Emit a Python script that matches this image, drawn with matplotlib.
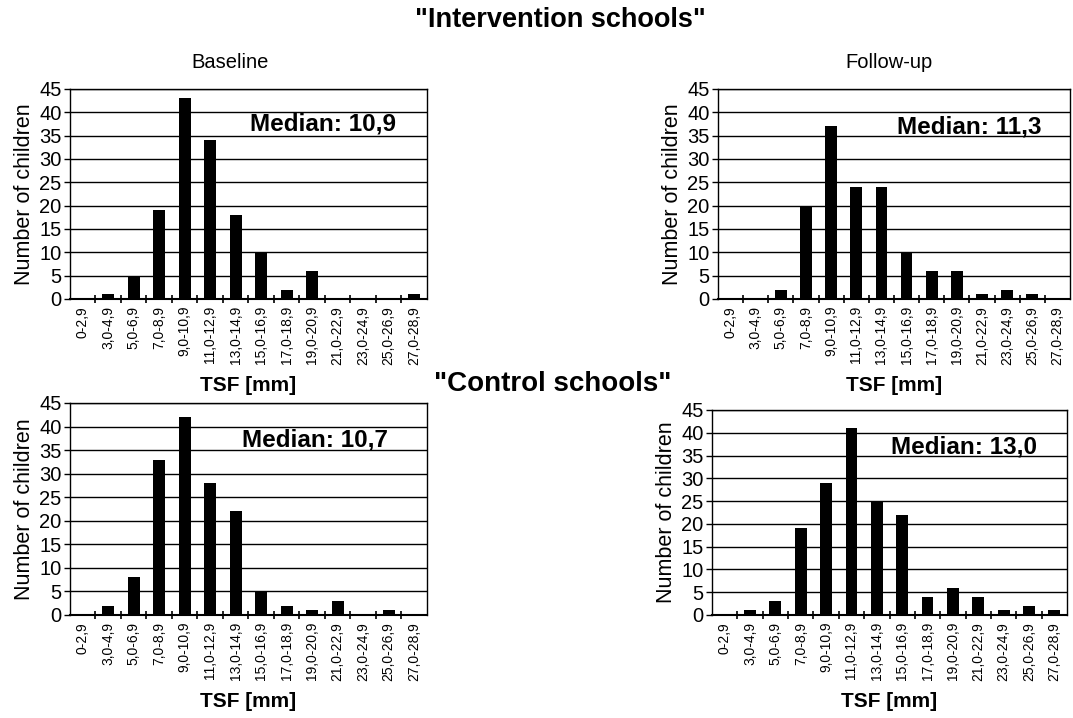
import numpy as np
import matplotlib
matplotlib.use("Agg")
import matplotlib.pyplot as plt

plt.rcParams["font.family"] = ["Liberation Sans", "DejaVu Sans"]

bins = ["0-2,9", "3,0-4,9", "5,0-6,9", "7,0-8,9", "9,0-10,9", "11,0-12,9",
        "13,0-14,9", "15,0-16,9", "17,0-18,9", "19,0-20,9", "21,0-22,9",
        "23,0-24,9", "25,0-26,9", "27,0-28,9"]

int_baseline = [0, 1, 5, 19, 43, 34, 18, 10, 2, 6, 0, 0, 0, 1]
int_followup = [0, 0, 2, 20, 37, 24, 24, 10, 6, 6, 1, 2, 1, 0]
ctl_baseline = [0, 2, 8, 33, 42, 28, 22, 5, 2, 1, 3, 0, 1, 0]
ctl_followup = [0, 1, 3, 19, 29, 41, 25, 22, 4, 6, 4, 1, 2, 1]

medians = ["Median: 10,9", "Median: 11,3", "Median: 10,7", "Median: 13,0"]

W, H = 1073, 718
fig = plt.figure(figsize=(W / 100, H / 100), dpi=100)


def px_axes(left, top, right, bottom):
    return fig.add_axes([left / W, 1 - bottom / H, (right - left) / W, (bottom - top) / H])


def draw_panel(ax, counts, median, med_x, med_y):
    x = np.arange(len(bins))
    ax.bar(x, counts, width=0.47, color="black", zorder=3)
    ax.set_xlim(-0.5, len(bins) - 0.5)
    ax.set_ylim(0, 45)
    ax.set_yticks(range(0, 46, 5))
    ax.yaxis.grid(True, color="black", linewidth=1.0, zorder=0)
    ax.set_xticks(x)
    ax.set_xticklabels(bins, rotation=90, fontsize=10)
    ax.tick_params(axis="x", length=0, pad=5)
    ax.set_xticks(np.arange(0.5, len(bins) - 1, 1), minor=True)
    ax.tick_params(axis="x", which="minor", direction="inout", length=6, width=1.2)
    ax.tick_params(axis="y", labelsize=14.5, length=4, width=1, pad=2)
    for s in ax.spines.values():
        s.set_linewidth(1.0)
    ax.spines["bottom"].set_linewidth(1.5)
    ax.set_ylabel("Number of children", fontsize=15.5, labelpad=3)
    ax.set_xlabel("TSF [mm]", fontsize=15, fontweight="bold", labelpad=8)
    ax.text(med_x, med_y, median, transform=ax.transAxes, fontsize=17.5,
            fontweight="bold", ha="center", va="center", zorder=4)


ax1 = px_axes(70, 89, 427, 299)
draw_panel(ax1, int_baseline, medians[0], 0.709, 0.833)
ax2 = px_axes(718, 89, 1070, 299)
draw_panel(ax2, int_followup, medians[1], 0.714, 0.819)
ax3 = px_axes(70, 403, 427, 615)
draw_panel(ax3, ctl_baseline, medians[2], 0.685, 0.825)
ax4 = px_axes(712, 410, 1067, 615)
draw_panel(ax4, ctl_followup, medians[3], 0.711, 0.82)

fig.text(230 / W, 1 - 62 / H, "Baseline", fontsize=14.5, ha="center", va="center")
fig.text(889 / W, 1 - 62 / H, "Follow-up", fontsize=14.5, ha="center", va="center")

fig.text(560 / W, 1 - 20 / H, '"Intervention schools"', fontsize=19.5,
         fontweight="bold", ha="center", va="center")
fig.text(553 / W, 1 - 384 / H, '"Control schools"', fontsize=20,
         fontweight="bold", ha="center", va="center")

fig.savefig("out.png", dpi=100)
